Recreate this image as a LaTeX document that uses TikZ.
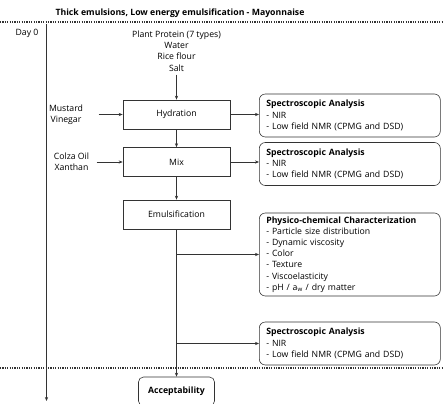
\documentclass[tikz,border=0pt]{standalone}
\usepackage{fontspec}
\setmainfont{Open Sans}
\usepackage{xcolor}
\usetikzlibrary{arrows.meta, positioning, calc}
\definecolor{Ink}{HTML}{333333}

\begin{document}
\begin{tikzpicture}[x=1pt, y=-1pt, every node/.style={font=\fontsize{8.7}{11.2}\selectfont}]
  \tikzstyle{stepbox}=[rectangle, draw=Ink, line width=0.6pt, minimum width=107pt, minimum height=29pt, inner sep=0pt]
  \tikzstyle{anabox}=[rectangle, draw=Ink, line width=0.6pt, rounded corners=6pt, text width=167pt, inner xsep=7pt, inner ysep=2pt, align=left, anchor=west]
  \tikzstyle{arrow}=[-{Stealth[length=4pt, width=3.2pt]}, line width=0.6pt, draw=Ink]
  \tikzstyle{sep}=[line width=1.1pt, dash pattern=on 1.1pt off 1.3pt, draw=Ink]

  \useasboundingbox (0,0) rectangle (443,403);

  % header and time axis
  \node (title) at (180,13) {\textbf{Thick emulsions, Low energy emulsification - Mayonnaise}};
  \draw[sep] (0,22) -- (443,22);
  \draw[sep] (0,368) -- (443,368);
  \node (day) at (27,33) {Day 0};
  \coordinate (t0) at (46.5,24);
  \coordinate (t1) at (46.5,401);
  \draw[arrow] (t0) -- (t1);

  % process steps
  \node[align=center] (ingr) at (176.5,51) {Plant Protein (7 types)\\Water\\Rice flour\\Salt};
  \node[stepbox] (hydration) at (176.5,114.5) {Hydration};
  \node[stepbox] (mix) at (176.5,162) {Mix};
  \node[stepbox] (emuls) at (176.5,214.5) {Emulsification};
  \node[rectangle, draw=Ink, line width=0.6pt, rounded corners=5pt, minimum width=76pt, minimum height=29pt] (accept) at (176.5,391.5) {\textbf{Acceptability}};

  \node[align=center] (mustard) at (66,114.5) {Mustard\\Vinegar};
  \node[align=center] (colza) at (71.5,162) {Colza Oil\\Xanthan};

  % analyses
  \node[anabox, minimum height=43pt] (spec1) at (259,115.5) {\textbf{Spectroscopic Analysis}\\- NIR\\- Low field NMR (CPMG and DSD)};
  \node[anabox, minimum height=43pt] (spec2) at (259,164) {\textbf{Spectroscopic Analysis}\\- NIR\\- Low field NMR (CPMG and DSD)};
  \node[anabox, minimum height=83pt] (phys) at (259,254.5) {\textbf{Physico-chemical Characterization}\\- Particle size distribution\\- Dynamic viscosity\\- Color\\- Texture\\- Viscoelasticity\\- pH / a\textsubscript{w} / dry matter};
  \node[anabox, minimum height=43pt] (spec3) at (259,343.5) {\textbf{Spectroscopic Analysis}\\- NIR\\- Low field NMR (CPMG and DSD)};

  \coordinate (b1) at (emuls.south |- phys.west);
  \coordinate (b2) at (emuls.south |- spec3.west);

  \draw[arrow] (ingr) -- (hydration);
  \draw[arrow] (hydration) -- (mix);
  \draw[arrow] (mix) -- (emuls);
  \draw[arrow] (emuls) -- (accept);
  \draw[arrow, shorten <=12pt] (mustard.east) -- (hydration.west);
  \draw[arrow, shorten <=4pt] (colza.east) -- (mix.west);
  \draw[arrow] (hydration) -- (spec1.west |- hydration.east);
  \draw[arrow] (mix) -- (spec2.west |- mix.east);
  \draw[arrow] (b1) -- (phys.west);
  \draw[arrow] (b2) -- (spec3.west);
\end{tikzpicture}
\end{document}
